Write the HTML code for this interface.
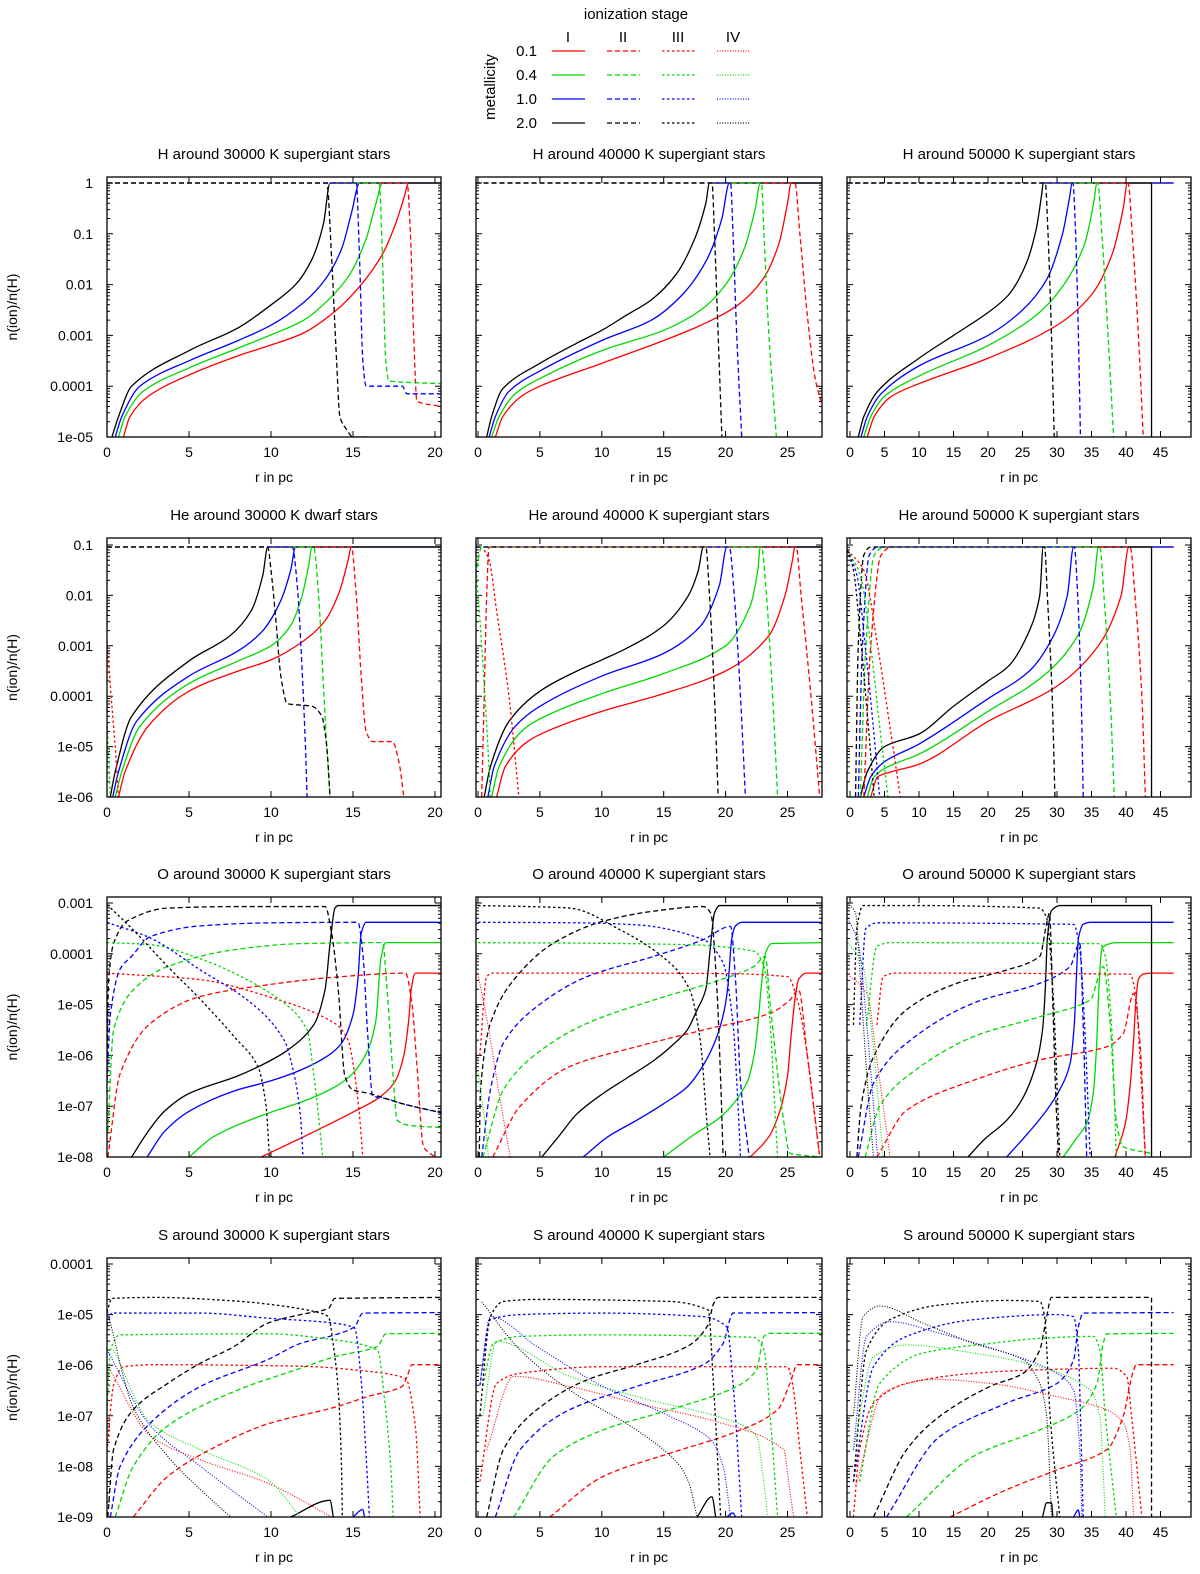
<!DOCTYPE html>
<html><head><meta charset="utf-8"><title>Ionization fractions</title>
<style>
html,body{margin:0;padding:0;background:#fff;}
svg{display:block;font-family:"Liberation Sans",Arial,sans-serif;}
</style></head>
<body>
<svg id="chart" width="1200" height="1574" viewBox="0 0 1200 1574" xmlns="http://www.w3.org/2000/svg">
<g>
<text x="636" y="19" font-size="15" text-anchor="middle">ionization stage</text>
<text x="0" y="0" font-size="15" text-anchor="middle" transform="translate(495,87) rotate(-90)">metallicity</text>
<g id="legend-items"></g>
</g>
<g id="panels"></g>
</svg>
<script>
// colours per metallicity (0.1, 0.4, 1.0, 2.0) and dash style per ionization stage
const COLORS=['#ff0000','#00d800','#0000ff','#000000'];
const DASH=['', '5,3', '2.5,2.5', '1,1.6'];
const METALS=['0.1','0.4','1.0','2.0'];
const STAGES=['I','II','III','IV'];

// axis tick labels
const XT1=[0,5,10,15,20];
const XT2=[0,5,10,15,20,25];
const XT3=[0,5,10,15,20,25,30,35,40,45];
const YT_H=['1','0.1','0.01','0.001','0.0001','1e-05'];
const YT_HE=['0.1','0.01','0.001','0.0001','1e-05','1e-06'];
const YT_O=['0.001','0.0001','1e-05','1e-06','1e-07','1e-08'];
const YT_S=['0.0001','1e-05','1e-06','1e-07','1e-08','1e-09'];
const TITLES=[
 ['H around 30000 K supergiant stars','H around 40000 K supergiant stars','H around 50000 K supergiant stars'],
 ['He around 30000 K dwarf stars','He around 40000 K supergiant stars','He around 50000 K supergiant stars'],
 ['O around 30000 K supergiant stars','O around 40000 K supergiant stars','O around 50000 K supergiant stars'],
 ['S around 30000 K supergiant stars','S around 40000 K supergiant stars','S around 50000 K supergiant stars']];

// series: m = metallicity index, s = stage index, pts = [r (pc), log10 n(ion)/n(H)]
const H30=[
{m:0,s:0,pts:[[1.0,-5],[1.4,-4.6],[2.5,-4.2],[5,-3.78],[8,-3.4],[10,-3.19],[12,-2.95],[14,-2.5],[15.5,-2],[16.8,-1.4],[17.6,-0.8],[18.1,-0.3],[18.4,0],[20.4,0]]},
{m:1,s:0,pts:[[0.7,-5],[1.1,-4.6],[2.2,-4.1],[5,-3.64],[8,-3.25],[10,-2.99],[12,-2.7],[13.5,-2.3],[14.8,-1.8],[15.8,-1.1],[16.4,-0.4],[16.8,0],[20.4,0]]},
{m:2,s:0,pts:[[0.5,-5],[0.9,-4.6],[2,-4.0],[5,-3.5],[8,-3.1],[10,-2.8],[12,-2.35],[13.3,-1.9],[14.3,-1.3],[14.9,-0.6],[15.4,0],[20.4,0]]},
{m:3,s:0,pts:[[0.3,-5],[0.7,-4.6],[1.5,-4.0],[5,-3.3],[8,-2.85],[10,-2.4],[11.5,-2.0],[12.5,-1.5],[13.2,-0.8],[13.6,0],[20.4,0]]},
{m:0,s:1,pts:[[0,0],[18.3,0],[18.5,-1],[18.7,-3],[18.9,-4.3],[20.4,-4.4]]},
{m:1,s:1,pts:[[0,0],[16.6,0],[16.8,-1.5],[17.0,-3.5],[17.2,-3.9],[20.4,-3.95]]},
{m:2,s:1,pts:[[0,0],[15.2,0],[15.4,-1.5],[15.6,-3.5],[15.8,-4.0],[18.0,-4.0],[18.3,-4.15],[20.4,-4.15]]},
{m:3,s:1,pts:[[0,0],[13.4,0],[13.7,-1.5],[14.0,-3.5],[14.2,-4.6],[14.6,-4.85],[15,-5.0],[16,-5.0]]}];
const H40=[
{m:0,s:0,pts:[[1.4,-5],[2,-4.6],[3.5,-4.2],[5,-4.0],[10,-3.55],[15,-3.1],[18,-2.8],[21,-2.4],[23,-1.9],[24.3,-1.2],[25,-0.4],[25.3,0],[27.8,0]]},
{m:1,s:0,pts:[[1.1,-5],[1.7,-4.6],[3,-4.15],[5,-3.85],[10,-3.3],[15,-2.9],[18,-2.5],[20,-2.0],[21.5,-1.3],[22.4,-0.5],[22.8,0],[27.8,0]]},
{m:2,s:0,pts:[[0.9,-5],[1.4,-4.6],[2.5,-4.1],[5,-3.7],[10,-3.1],[14,-2.7],[16.5,-2.2],[18.5,-1.5],[19.7,-0.7],[20.3,0],[27.8,0]]},
{m:3,s:0,pts:[[0.7,-5],[1.1,-4.6],[2,-4.05],[5,-3.55],[8,-3.15],[10,-2.9],[12,-2.6],[14,-2.3],[16,-1.8],[17.5,-1.1],[18.4,-0.4],[18.7,0],[27.8,0]]},
{m:0,s:1,pts:[[-0.2,0],[25.6,0],[26,-1],[26.6,-2.6],[27.2,-3.8],[27.8,-4.4]]},
{m:1,s:1,pts:[[-0.2,0],[22.9,0],[23.1,-1],[23.5,-3],[24.1,-5]]},
{m:2,s:1,pts:[[-0.2,0],[20.4,0],[20.6,-1],[20.9,-3],[21.3,-5]]},
{m:3,s:1,pts:[[-0.2,0],[18.9,0],[19.1,-1],[19.4,-3],[19.7,-5]]}];
const H50=[
{m:0,s:0,pts:[[2.5,-5],[3.5,-4.6],[6,-4.2],[10,-3.95],[20,-3.45],[30,-2.8],[35,-2.2],[38,-1.4],[39.6,-0.5],[40.2,0],[46.9,0]]},
{m:1,s:0,pts:[[2,-5],[3,-4.6],[5,-4.2],[10,-3.8],[20,-3.2],[27,-2.6],[31,-2.0],[34,-1.2],[35.3,-0.4],[35.8,0],[46.9,0]]},
{m:2,s:0,pts:[[1.6,-5],[2.5,-4.6],[4.5,-4.15],[10,-3.6],[20,-3.0],[25,-2.5],[28.5,-1.9],[30.8,-1.0],[31.8,-0.3],[32.2,0],[46.9,0]]},
{m:3,s:0,pts:[[1.2,-5],[2,-4.6],[4,-4.1],[10,-3.45],[15,-3.0],[20,-2.55],[23,-2.2],[25.5,-1.6],[27,-0.9],[27.8,-0.2],[28,0],[43.7,0],[43.7,-5.2]]},
{m:0,s:1,pts:[[-0.4,0],[40.3,0],[40.9,-1],[41.8,-3],[42.5,-5]]},
{m:1,s:1,pts:[[-0.4,0],[35.9,0],[36.5,-1],[37.4,-3],[38.2,-5]]},
{m:2,s:1,pts:[[-0.4,0],[32.3,0],[32.7,-1],[33.1,-3],[33.4,-5]]},
{m:3,s:1,pts:[[-0.4,0],[28.3,0],[28.7,-1],[29.2,-3],[29.6,-5]]}];
const HE30=[
{m:0,s:0,pts:[[0.7,-6],[1.1,-5.5],[2.5,-4.6],[5,-3.9],[8,-3.5],[10,-3.28],[12,-2.9],[13.3,-2.5],[14.2,-1.9],[14.7,-1.3],[14.9,-1.04],[20.4,-1.04]]},
{m:1,s:0,pts:[[0.5,-6],[0.9,-5.5],[2,-4.6],[5,-3.75],[8,-3.3],[10,-3.0],[11.2,-2.6],[11.9,-2.0],[12.3,-1.4],[12.5,-1.04],[20.4,-1.04]]},
{m:2,s:0,pts:[[0.35,-6],[0.7,-5.5],[1.8,-4.5],[5,-3.6],[8,-3.1],[9.5,-2.7],[10.6,-2.1],[11.2,-1.5],[11.5,-1.04],[20.4,-1.04]]},
{m:3,s:0,pts:[[0.2,-6],[0.5,-5.5],[1.5,-4.4],[5,-3.3],[7.5,-2.8],[8.8,-2.3],[9.5,-1.6],[9.8,-1.04],[20.4,-1.04]]},
{m:0,s:1,pts:[[0,-1.04],[14.9,-1.04],[15.2,-2],[15.5,-3.6],[15.8,-4.7],[16.2,-4.9],[17.4,-4.9],[17.8,-5.3],[18.1,-6]]},
{m:1,s:1,pts:[[0,-1.04],[12.6,-1.04],[12.9,-2],[13.2,-3.8],[13.4,-5],[13.6,-6]]},
{m:2,s:1,pts:[[0,-1.04],[11.3,-1.04],[11.6,-1.8],[11.9,-3.5],[12.1,-5],[12.2,-6]]},
{m:3,s:1,pts:[[0,-1.04],[9.8,-1.04],[10.0,-1.5],[10.3,-2.5],[10.6,-3.6],[11,-4.15],[12.5,-4.2],[13.1,-4.4],[13.4,-5],[13.6,-6]]},
{m:0,s:2,pts:[[0,-2.9],[0.25,-4],[0.5,-5],[0.7,-6]]},
{m:1,s:2,pts:[[0,-4.5],[0.1,-5.2],[0.2,-6]]}];
const HE40=[
{m:0,s:0,pts:[[1.5,-6],[2.2,-5.4],[4,-4.9],[6,-4.65],[10,-4.3],[15,-3.95],[20,-3.5],[23.5,-2.8],[24.8,-2.0],[25.4,-1.3],[25.6,-1.04],[27.8,-1.04]]},
{m:1,s:0,pts:[[1.1,-6],[1.7,-5.4],[3.5,-4.7],[5,-4.45],[10,-3.95],[15,-3.55],[20,-3.0],[22,-2.2],[22.6,-1.5],[22.8,-1.04],[27.8,-1.04]]},
{m:2,s:0,pts:[[0.8,-6],[1.3,-5.4],[3,-4.6],[5,-4.2],[10,-3.6],[15,-3.15],[18,-2.6],[19.5,-1.8],[20.1,-1.04],[27.8,-1.04]]},
{m:3,s:0,pts:[[0.5,-6],[1,-5.4],[2.5,-4.5],[5,-3.9],[8,-3.5],[10,-3.28],[12,-3.05],[15,-2.6],[17,-2.0],[17.8,-1.5],[18.2,-1.04],[27.8,-1.04]]},
{m:0,s:1,pts:[[0.3,-6],[0.5,-4],[0.7,-2],[0.9,-1.04],[25.7,-1.04],[26.1,-2],[26.9,-4],[27.6,-6]]},
{m:1,s:1,pts:[[-0.2,-1.6],[0.3,-1.04],[22.9,-1.04],[23.3,-2],[23.8,-4],[24.2,-6]]},
{m:2,s:1,pts:[[-0.2,-1.04],[20.3,-1.04],[20.7,-2],[21.2,-4],[21.6,-6]]},
{m:3,s:1,pts:[[-0.2,-1.04],[18.4,-1.04],[18.7,-2],[19.1,-4],[19.4,-6]]},
{m:0,s:2,pts:[[0.5,-1.1],[0.9,-1.3],[1.5,-2.3],[2.5,-4],[3.3,-6]]},
{m:1,s:2,pts:[[-0.2,-1.3],[0.3,-3],[0.8,-5],[1.0,-6]]}];
const HE50=[
{m:0,s:0,pts:[[3,-6],[4,-5.6],[6,-5.5],[10,-5.35],[20,-4.5],[30,-3.8],[36,-3.0],[39.3,-2.0],[40.4,-1.04],[46.9,-1.04]]},
{m:1,s:0,pts:[[2.5,-6],[3.5,-5.6],[5.5,-5.4],[10,-5.15],[20,-4.3],[28,-3.6],[33,-2.8],[35.3,-1.8],[36,-1.04],[46.9,-1.04]]},
{m:2,s:0,pts:[[2,-6],[3,-5.6],[5,-5.3],[10,-4.95],[20,-4.05],[26,-3.5],[29.5,-2.8],[31.5,-2.0],[32.4,-1.04],[46.9,-1.04]]},
{m:3,s:0,pts:[[1.5,-6],[2.5,-5.5],[5,-5.0],[10,-4.75],[15,-4.2],[20,-3.7],[23,-3.4],[26,-2.7],[27.5,-2.0],[28,-1.04],[43.7,-1.04],[43.7,-6.2]]},
{m:0,s:1,pts:[[2,-6],[3,-3],[4.5,-1.2],[6,-1.04],[40.6,-1.04],[41.3,-2],[42.3,-4],[42.8,-6]]},
{m:1,s:1,pts:[[1.5,-6],[2.3,-3],[3.5,-1.2],[5,-1.04],[36.2,-1.04],[36.8,-2],[37.7,-4],[38.3,-6]]},
{m:2,s:1,pts:[[1.2,-6],[1.8,-3],[2.8,-1.2],[4,-1.04],[32.5,-1.04],[33,-2],[33.5,-4],[33.8,-6]]},
{m:3,s:1,pts:[[0.8,-6],[1.2,-3],[2,-1.2],[3,-1.04],[28.2,-1.04],[28.6,-2],[29.3,-4],[29.7,-6]]},
{m:0,s:2,pts:[[-0.4,-1.1],[2,-1.5],[4,-3],[6,-4.8],[7.3,-6]]},
{m:1,s:2,pts:[[-0.4,-1.1],[1.5,-1.6],[3,-3],[4.3,-4.6],[5.5,-6]]},
{m:2,s:2,pts:[[-0.4,-1.1],[1,-1.6],[2.2,-3],[3.3,-4.5],[4.3,-6]]},
{m:3,s:2,pts:[[-0.4,-1.1],[0.5,-1.5],[1.5,-2.8],[2.6,-4.5],[3.5,-6]]}];
const O30=[
{m:0,s:0,pts:[[9.4,-8],[12,-7.6],[15.1,-7.1],[16.5,-6.85],[17.55,-6.52],[18.1,-6.0],[18.4,-5.3],[18.55,-4.7],[18.8,-4.38],[20.4,-4.38]]},
{m:1,s:0,pts:[[5,-8],[6.5,-7.6],[9.8,-7.14],[12,-6.9],[13.9,-6.62],[15,-6.35],[15.9,-5.9],[16.4,-5.3],[16.7,-4.1],[17.0,-3.78],[20.4,-3.78]]},
{m:2,s:0,pts:[[2.45,-8],[3.5,-7.5],[5,-7.1],[7.75,-6.7],[10,-6.5],[11.8,-6.29],[13.5,-6.0],[14.3,-5.76],[15.0,-5.2],[15.3,-4.5],[15.5,-3.6],[15.8,-3.38],[20.4,-3.38]]},
{m:3,s:0,pts:[[1.5,-8],[2.5,-7.5],[3.5,-7.1],[5,-6.75],[8,-6.4],[9.8,-6.13],[11,-5.9],[12.6,-5.4],[13.3,-4.7],[13.6,-3.8],[13.9,-3.1],[14.1,-3.05],[20.4,-3.05]]},
{m:0,s:1,pts:[[0.05,-8],[0.8,-6.36],[2.65,-5.37],[5.7,-4.84],[9.8,-4.61],[13.9,-4.46],[18.2,-4.38],[18.6,-5],[18.9,-6.2],[19.3,-7.8],[20.0,-8.0]]},
{m:1,s:1,pts:[[0.05,-7.5],[0.4,-5.5],[1.6,-4.71],[3.7,-4.25],[7.75,-3.92],[11.8,-3.8],[16.8,-3.78],[17.1,-4.8],[17.4,-6.2],[17.7,-7.28],[18.5,-7.38],[20.4,-7.42]]},
{m:2,s:1,pts:[[0,-6.5],[0.2,-5.2],[0.8,-4.3],[1.5,-4.05],[2.65,-3.66],[5.7,-3.45],[10,-3.39],[15.3,-3.38],[15.6,-4],[15.9,-5.6],[16.2,-6.8],[17,-6.85],[18,-6.95],[20.4,-7.13]]},
{m:3,s:1,pts:[[0,-6],[0.1,-4.5],[0.4,-3.8],[1.2,-3.36],[3.7,-3.1],[8,-3.07],[13.3,-3.07],[13.7,-3.6],[14.1,-4.7],[14.5,-6.4],[15,-6.68],[16,-6.75],[18,-6.95],[20.4,-7.13]]},
{m:0,s:2,pts:[[0,-4.38],[5.7,-4.51],[9.8,-4.84],[13.9,-5.37],[14.7,-5.7],[15.1,-6.36],[15.4,-7.2],[15.6,-8]]},
{m:1,s:2,pts:[[0,-3.78],[2.65,-3.82],[5.7,-4.1],[7.75,-4.38],[10.8,-4.97],[12.2,-5.5],[12.6,-6.36],[12.9,-7.2],[13.15,-8]]},
{m:2,s:2,pts:[[0,-3.38],[2.65,-3.69],[5.7,-4.32],[8.8,-4.97],[10.8,-5.7],[11.4,-6.36],[11.8,-7.2],[11.95,-8]]},
{m:3,s:2,pts:[[0,-3.03],[1.6,-3.53],[3.7,-4.25],[5.7,-4.9],[7.75,-5.63],[9.2,-6.22],[9.7,-7.0],[9.9,-8]]}];
const O40=[
{m:0,s:0,pts:[[22,-8],[23.5,-7.6],[24.4,-7.08],[25,-6.4],[25.3,-5.6],[25.6,-4.9],[25.9,-4.5],[26.5,-4.38],[27.8,-4.38]]},
{m:1,s:0,pts:[[15,-8],[17.5,-7.55],[19.6,-7.21],[21.7,-6.55],[22.3,-6.0],[22.6,-5.4],[22.9,-4.6],[23.2,-4.0],[23.7,-3.8],[27.8,-3.78]]},
{m:2,s:0,pts:[[8.5,-8],[10.5,-7.6],[12.8,-7.28],[15,-6.95],[16.9,-6.62],[18.3,-6.15],[19.3,-5.63],[19.9,-5.1],[20.2,-4.6],[20.5,-3.7],[20.8,-3.45],[21.3,-3.38],[27.8,-3.38]]},
{m:3,s:0,pts:[[5.15,-8],[6.5,-7.6],[8,-7.15],[10.1,-6.75],[12,-6.45],[14.2,-6.1],[15.7,-5.8],[16.9,-5.5],[17.7,-5.1],[18.4,-4.7],[18.8,-3.8],[19.1,-3.2],[19.5,-3.05],[27.8,-3.05]]},
{m:0,s:1,pts:[[1.2,-8],[3.4,-7.0],[7.4,-6.22],[12.8,-5.83],[18.2,-5.5],[23.6,-5.17],[25.2,-4.91],[25.9,-4.71],[26.6,-6.0],[27.6,-8]]},
{m:1,s:1,pts:[[0.4,-8],[2.05,-6.68],[4.75,-5.96],[8.8,-5.37],[14.2,-4.91],[19.6,-4.51],[22.3,-4.25],[23.2,-4.05],[23.6,-5.0],[24.7,-7.3],[25.2,-7.93],[27.8,-8]]},
{m:2,s:1,pts:[[0.3,-8],[1.0,-6.68],[2.05,-5.76],[4.75,-5.04],[8.8,-4.45],[14.2,-4.05],[18.2,-3.72],[20.4,-3.46],[20.8,-4.5],[21.2,-6.5],[21.9,-8]]},
{m:3,s:1,pts:[[0.1,-8],[0.2,-6.68],[1.0,-5.37],[2.9,-4.51],[6.1,-3.79],[10.1,-3.36],[14.2,-3.16],[18.2,-3.07],[18.8,-3.2],[19.3,-4.7],[19.6,-6.5],[19.8,-8]]},
{m:0,s:2,pts:[[0.15,-6],[0.7,-4.45],[1.2,-4.38],[10,-4.38],[20,-4.39],[25,-4.45],[25.8,-4.91],[26.6,-6.0],[27.6,-8]]},
{m:1,s:2,pts:[[0,-3.78],[8,-3.79],[16.9,-3.82],[22.3,-3.95],[23.1,-4.25],[23.6,-5.37],[23.9,-6.7],[24.2,-8]]},
{m:2,s:2,pts:[[0,-3.38],[8,-3.39],[12.8,-3.43],[18.2,-3.72],[19.8,-4.18],[20.6,-5.37],[20.9,-6.5],[21.2,-8]]},
{m:3,s:2,pts:[[0,-3.05],[4,-3.07],[7.4,-3.1],[11.5,-3.53],[15.5,-4.18],[17.1,-4.71],[17.95,-5.7],[18.5,-7.34],[18.75,-8]]},
{m:0,s:3,pts:[[0,-4.4],[0.8,-5.4],[1.6,-6.6],[2.6,-8]]},
{m:1,s:3,pts:[[0,-6.3],[0.5,-7.2],[0.85,-8]]}];
const O50=[
{m:0,s:0,pts:[[38.4,-8],[39.9,-7.34],[40.6,-6.6],[41.1,-5.7],[41.4,-5.0],[41.8,-4.5],[42.5,-4.4],[43.5,-4.38],[46.9,-4.38]]},
{m:1,s:0,pts:[[30.9,-8],[33,-7.6],[34.3,-7.34],[35.3,-6.7],[35.7,-5.9],[36.1,-4.6],[36.5,-3.9],[37.2,-3.82],[38.6,-3.78],[46.9,-3.78]]},
{m:2,s:0,pts:[[22.7,-8],[26,-7.5],[28.5,-7.08],[30.5,-6.65],[31.9,-6.16],[32.5,-5.4],[32.8,-4.5],[33.1,-3.7],[33.8,-3.42],[34.8,-3.38],[46.9,-3.38]]},
{m:3,s:0,pts:[[17.1,-8],[19.5,-7.65],[22.7,-7.28],[25,-6.85],[27,-6.16],[27.9,-5.5],[28.3,-4.7],[28.6,-3.7],[29.2,-3.15],[30.4,-3.05],[43.7,-3.05],[43.7,-8.1]]},
{m:0,s:1,pts:[[3.9,-8],[8.2,-7.08],[17.9,-6.49],[27.5,-6.09],[37.2,-5.83],[39.6,-5.57],[41.1,-4.78],[42.0,-5.7],[42.8,-8]]},
{m:1,s:1,pts:[[2.2,-8],[4.3,-7.0],[8.2,-6.42],[17.9,-5.63],[27.5,-5.24],[34.8,-4.91],[36.7,-4.25],[37.7,-5.37],[38.6,-7.3],[39.6,-7.8],[43.7,-7.93]]},
{m:2,s:1,pts:[[1.2,-8],[3.4,-6.55],[8.2,-5.76],[17.9,-4.97],[27.5,-4.58],[31.9,-4.25],[33.3,-3.79],[33.8,-5.4],[34.3,-8]]},
{m:3,s:1,pts:[[1.0,-8],[1.6,-7.0],[3.4,-6.03],[8.2,-5.1],[15.5,-4.58],[22.7,-4.32],[27.5,-4.05],[28.5,-3.4],[28.9,-3.2],[29.4,-5.0],[29.8,-6.7],[30.2,-8]]},
{m:0,s:2,pts:[[3.9,-5.4],[4.8,-4.45],[6.5,-4.38],[40.6,-4.4],[41.5,-4.91],[42.0,-6.0],[42.8,-8]]},
{m:1,s:2,pts:[[2.4,-5.4],[3.9,-3.85],[6,-3.78],[36.2,-3.8],[37,-4.05],[37.9,-5.4],[38.6,-8]]},
{m:2,s:2,pts:[[1.4,-5.4],[2.3,-3.5],[4,-3.39],[32.4,-3.42],[33.3,-3.9],[34,-5.4],[34.8,-8]]},
{m:3,s:2,pts:[[0.5,-5.4],[1.0,-3.5],[1.9,-3.05],[10,-3.05],[27.5,-3.1],[28.5,-3.3],[29.4,-4.7],[30.4,-8]]},
{m:0,s:3,pts:[[-0.3,-4.4],[2.5,-4.8],[3.8,-6.0],[5.8,-8]]},
{m:1,s:3,pts:[[-0.3,-3.78],[1.8,-4.2],[3.2,-5.6],[4.8,-8]]},
{m:2,s:3,pts:[[-0.3,-3.3],[1.2,-3.8],[2.5,-5.5],[4.0,-8]]},
{m:3,s:3,pts:[[-0.3,-3],[0.8,-3.2],[1.5,-4.5],[2.5,-6.5],[3.4,-8]]}];
const S30=[
{m:2,s:0,pts:[[15.0,-9],[15.6,-8.85],[15.7,-9]]},
{m:3,s:0,pts:[[11.2,-9],[13.6,-8.67],[13.8,-9]]},
{m:0,s:1,pts:[[1.6,-9],[3.7,-8.2],[6.7,-7.6],[9.8,-7.16],[13.9,-6.83],[15.9,-6.62],[18,-6.42],[18.3,-6.22],[18.6,-5.99],[20.4,-5.99]]},
{m:1,s:1,pts:[[0.5,-9],[1.6,-8.0],[3.7,-7.2],[7.75,-6.52],[11.8,-6.06],[13.9,-5.83],[16.5,-5.63],[17.0,-5.38],[20.4,-5.37]]},
{m:2,s:1,pts:[[0.2,-9],[0.8,-8.0],[2.65,-7.14],[5.7,-6.42],[9.8,-5.89],[11.8,-5.57],[13.9,-5.4],[15.1,-5.24],[15.6,-4.97],[20.4,-4.96]]},
{m:3,s:1,pts:[[0.05,-9],[0.4,-7.67],[1.6,-6.88],[3.7,-6.36],[5.7,-5.96],[7.75,-5.63],[9.8,-5.17],[11.8,-5.0],[13.5,-4.88],[13.9,-4.68],[20.4,-4.66]]},
{m:0,s:2,pts:[[0,-7.7],[0.4,-6.4],[1.0,-6.03],[3,-5.99],[11.8,-6.02],[15.9,-6.12],[18.2,-6.26],[18.8,-7.2],[19.1,-9]]},
{m:1,s:2,pts:[[0,-6.9],[0.2,-5.7],[0.8,-5.4],[9.8,-5.38],[13.9,-5.5],[16.5,-5.7],[16.9,-6.6],[17.3,-8],[17.45,-9]]},
{m:2,s:2,pts:[[0,-5.2],[0.3,-4.97],[5.7,-4.97],[9.8,-5.07],[13.9,-5.17],[15.1,-5.27],[15.5,-6.3],[15.8,-7.8],[16.0,-9]]},
{m:3,s:2,pts:[[0,-4.95],[0.3,-4.68],[3,-4.66],[7.75,-4.73],[10,-4.8],[12.65,-4.94],[13.5,-5.04],[13.8,-5.6],[14.1,-6.5],[14.3,-8],[14.35,-9]]},
{m:0,s:3,pts:[[0.2,-6.1],[2.65,-7.4],[5.7,-7.87],[9.8,-8.33],[13.7,-9]]},
{m:1,s:3,pts:[[0.4,-5.7],[2.65,-7.14],[5.7,-7.67],[9.8,-8.26],[11.8,-9]]},
{m:2,s:3,pts:[[0,-5.7],[2.65,-7.2],[5.7,-8.0],[9.8,-9]]},
{m:3,s:3,pts:[[0,-4.9],[1.6,-6.83],[3.7,-7.8],[5.7,-8.46],[7.55,-9]]}];
const S40=[
{m:2,s:0,pts:[[20.1,-9],[20.6,-8.92],[20.8,-9]]},
{m:3,s:0,pts:[[17.7,-9],[18.9,-8.6],[19.2,-9]]},
{m:0,s:1,pts:[[5.8,-9],[10.1,-8.2],[15.5,-7.74],[20.9,-7.31],[24.2,-6.88],[25.2,-6.36],[25.8,-5.99],[27.8,-5.99]]},
{m:1,s:1,pts:[[2.9,-9],[6.1,-7.8],[10.1,-7.28],[15.5,-6.88],[20.9,-6.42],[22.5,-6.09],[23.1,-5.43],[23.5,-5.37],[27.8,-5.37]]},
{m:2,s:1,pts:[[1.4,-9],[3.4,-7.67],[7.4,-6.88],[12.8,-6.42],[18.2,-5.99],[19.8,-5.57],[20.6,-4.97],[27.8,-4.96]]},
{m:3,s:1,pts:[[0.7,-9],[2.05,-7.67],[4.75,-6.88],[8.8,-6.29],[12.8,-5.99],[16.9,-5.63],[18.6,-5.2],[19.0,-4.8],[19.4,-4.66],[27.8,-4.66]]},
{m:0,s:2,pts:[[0.15,-8.3],[1.5,-6.36],[3.4,-6.16],[10.1,-6.03],[25,-6.03],[25.4,-6.36],[26.0,-7.67],[26.6,-9]]},
{m:1,s:2,pts:[[0.4,-6.4],[1.25,-5.57],[3.4,-5.43],[10,-5.4],[22.3,-5.45],[23.1,-5.7],[23.6,-7.0],[24.2,-9]]},
{m:2,s:2,pts:[[0.15,-6.4],[1.0,-5.1],[3.4,-5.0],[10,-4.97],[18.2,-5.04],[20.1,-5.24],[20.6,-6.35],[21.3,-9]]},
{m:3,s:2,pts:[[0.15,-7],[1.0,-5.04],[2.05,-4.74],[4.75,-4.7],[15.5,-4.74],[18.6,-4.91],[19.0,-6.3],[19.6,-9]]},
{m:0,s:3,pts:[[0.7,-7.67],[2.9,-6.22],[7.4,-6.42],[12.8,-6.75],[19.6,-7.14],[24.7,-7.67],[25.1,-8.33],[25.5,-9]]},
{m:1,s:3,pts:[[0.4,-7],[1.5,-5.53],[7.4,-6.22],[12.8,-6.62],[20.9,-7.14],[22.5,-7.4],[23.1,-8.33],[23.4,-9]]},
{m:2,s:3,pts:[[0.15,-6.4],[1.0,-5.04],[4.75,-5.63],[10.1,-6.42],[15.5,-7.01],[18.8,-7.47],[19.8,-8.0],[20.4,-9]]},
{m:3,s:3,pts:[[0.3,-4.75],[3.4,-5.7],[7.4,-6.49],[12.8,-7.28],[16.1,-7.93],[17.0,-8.3],[17.7,-9]]}];
const S50=[
{m:2,s:0,pts:[[32.4,-9],[33.1,-8.86],[33.3,-9]]},
{m:3,s:0,pts:[[27.9,-9],[28.5,-8.72],[29.2,-8.72],[29.4,-9]]},
{m:0,s:1,pts:[[14.5,-9],[22.7,-8.46],[30,-8.07],[37.2,-7.67],[39.6,-7.01],[40.6,-6.36],[41.1,-6.1],[41.5,-5.99],[46.9,-5.99]]},
{m:1,s:1,pts:[[8.2,-9],[17.9,-7.8],[27.5,-7.28],[33.3,-6.88],[35.8,-6.36],[36.7,-5.57],[37.2,-5.38],[46.9,-5.37]]},
{m:2,s:1,pts:[[5.3,-9],[13.0,-7.41],[22.7,-6.75],[30,-6.36],[32.4,-5.9],[33.1,-5.24],[33.8,-4.97],[46.9,-4.96]]},
{m:3,s:1,pts:[[3.4,-9],[8.2,-7.67],[13.0,-7.01],[20.3,-6.42],[25.1,-6.16],[27.5,-5.7],[28.5,-5.04],[29.2,-4.66],[43.7,-4.66],[43.7,-9.1]]},
{m:0,s:2,pts:[[0.5,-9],[1.4,-7.67],[3.4,-6.75],[8.2,-6.36],[17.9,-6.16],[27.5,-6.09],[38.2,-6.06],[40.1,-6.22],[40.8,-7.0],[42.3,-9]]},
{m:1,s:2,pts:[[1.4,-8.3],[4.3,-6.36],[10.6,-5.76],[20.3,-5.57],[27.5,-5.47],[35.3,-5.43],[36.2,-5.7],[37.0,-7.0],[38.6,-9]]},
{m:2,s:2,pts:[[0.5,-8.3],[3.4,-6.03],[8.2,-5.43],[17.9,-5.1],[30,-5.0],[32.4,-5.04],[33.1,-5.7],[33.4,-7.0],[33.8,-9]]},
{m:3,s:2,pts:[[0.5,-8.3],[2.4,-5.7],[5.8,-5.1],[13.0,-4.81],[22.7,-4.72],[27.5,-4.74],[28.2,-5.04],[29.0,-7.0],[30.4,-9]]},
{m:0,s:3,pts:[[1.0,-8.33],[4.8,-6.55],[12.1,-6.28],[20.3,-6.36],[30,-6.62],[37.2,-6.88],[39.6,-7.14],[40.6,-7.67],[41.1,-9]]},
{m:1,s:3,pts:[[0.5,-7.67],[3.4,-5.83],[8.2,-5.6],[17.9,-5.76],[27.5,-6.03],[34.8,-6.49],[36.2,-7.01],[37.0,-9]]},
{m:2,s:3,pts:[[0.5,-7.67],[2.4,-5.43],[5.8,-5.14],[13.0,-5.37],[22.7,-5.76],[30,-6.16],[32.4,-6.49],[33.3,-7.67],[33.6,-9]]},
{m:3,s:3,pts:[[0.5,-7.0],[1.9,-5.04],[4.3,-4.83],[10.6,-5.17],[17.9,-5.57],[25.1,-5.89],[27.5,-6.36],[28.5,-7.01],[29.2,-9]]}];

const DATA=[[H30,H40,H50],[HE30,HE40,HE50],[O30,O40,O50],[S30,S40,S50]];
const ELEMENTS=['h','he','o','s'];
const TEMPS=['30000','40000','50000'];

// layout (pixel geometry, not data)
const COLS=[{L:107,R:441,x0:107,k:16.4,ticks:XT1},{L:476,R:822,x0:478,k:12.38,ticks:XT2},{L:847,R:1191,x0:850,k:6.9,ticks:XT3}];
const ROWS=[{T:177,B:437,y0:183,top:0,k:50.8,lab:YT_H},{T:538,B:797,y0:545,top:-1,k:50.4,lab:YT_HE},{T:897,B:1157,y0:903,top:-3,k:50.8,lab:YT_O},{T:1258,B:1517,y0:1264,top:-4,k:50.6,lab:YT_S}];
const NS='http://www.w3.org/2000/svg';
function mk(tag,attrs,parent){const e=document.createElementNS(NS,tag);for(const k in attrs)e.setAttribute(k,attrs[k]);if(parent)parent.appendChild(e);return e;}
function lineStyle(el,m,s,w){
 el.setAttribute('stroke',COLORS[m]);
 el.setAttribute('stroke-width',w);
 el.setAttribute('fill','none');
 if(DASH[s])el.setAttribute('stroke-dasharray',DASH[s]);
}

function pathFor(pts,xs,ys){
 const P=pts.map(p=>[xs(p[0]),ys(p[1])]);const n=P.length;
 if(n<2)return '';
 const d=[],m=[];
 for(let i=0;i<n-1;i++){const dx=P[i+1][0]-P[i][0];d.push(dx>0.01?(P[i+1][1]-P[i][1])/dx:null);}
 for(let i=0;i<n;i++){
  const a=i>0?d[i-1]:null,b=i<n-1?d[i]:null;
  if(a===null&&b===null)m.push(0);
  else if(a===null)m.push(i===0?b:0);
  else if(b===null)m.push(i===n-1?a:0);
  else if(a*b<=0)m.push(0);
  else m.push(2/(1/a+1/b));
 }
 let s='M'+P[0][0].toFixed(2)+','+P[0][1].toFixed(2);
 for(let i=0;i<n-1;i++){
  const x1=P[i][0],y1=P[i][1],x2=P[i+1][0],y2=P[i+1][1];
  if(d[i]===null){s+='L'+x2.toFixed(2)+','+y2.toFixed(2);continue;}
  const h=(x2-x1)/3;
  s+='C'+(x1+h).toFixed(2)+','+(y1+m[i]*h).toFixed(2)+' '+(x2-h).toFixed(2)+','+(y2-m[i+1]*h).toFixed(2)+' '+x2.toFixed(2)+','+y2.toFixed(2);
 }
 return s;
}

const root=document.getElementById('panels');
const defs=mk('defs',{},root);
for(let r=0;r<4;r++){
 const row=ROWS[r];
 for(let c=0;c<3;c++){
  const col=COLS[c];
  const xs=v=>col.x0+v*col.k;
  const ys=v=>row.y0+(row.top-v)*row.k;
  const id='clip'+r+c;
  const cp=mk('clipPath',{id:id},defs);
  mk('rect',{x:col.L,y:row.T,width:col.R-col.L,height:row.B-row.T},cp);
  const g=mk('g',{},root);
  
  
  const cx=(col.L+col.R)/2;
  const t=mk('text',{x:cx,y:row.T-18,'font-size':15,'text-anchor':'middle'},g);
  t.textContent=TITLES[r][c];
  
  
  const xl=mk('text',{x:cx,y:row.B+45,'font-size':14,'text-anchor':'middle'},g);
  xl.textContent='r in pc';
  
  
  for(const tv of col.ticks){
   const x=xs(tv);
   const tk=mk('path',{d:'M'+x+','+row.B+'v-6M'+x+','+row.T+'v6',stroke:'#000','stroke-width':1},g);
   
   
   const tl=mk('text',{x:x,y:row.B+20,'font-size':14,'text-anchor':'middle'},g);
   tl.textContent=String(tv);
   
   
  }
  for(let i=0;i<row.lab.length;i++){
   const dv=row.top-i;const y=ys(dv);
   const tk=mk('path',{d:'M'+col.L+','+y+'h6M'+col.R+','+y+'h-6',stroke:'#000','stroke-width':1},g);
   
   
   if(c===0){
    const tl=mk('text',{x:93,y:y+5,'font-size':14,'text-anchor':'end'},g);
    tl.textContent=row.lab[i];
    
    
   }
   for(let mm=2;mm<=9;mm++){
    const yy=ys(dv-1+Math.log10(mm));
    if(yy<row.T||yy>row.B)continue;
    const mt=mk('path',{d:'M'+col.L+','+yy.toFixed(1)+'h3M'+col.R+','+yy.toFixed(1)+'h-3',stroke:'#000','stroke-width':1},g);
    
    
   }
  }
  if(c===0){
   const yl=mk('text',{x:0,y:0,'font-size':14,'text-anchor':'middle',transform:'translate(17,'+((row.T+row.B)/2)+') rotate(-90)'},g);
   yl.textContent='n(ion)/n(H)';
   
   
  }
  const sg=mk('g',{'clip-path':'url(#'+id+')'},g);
  
  
  const list=DATA[r][c].slice().sort((a,b)=>(a.s-b.s)||(a.m-b.m));
  for(const s of list){
   const p=mk('path',{d:pathFor(s.pts,xs,ys)},sg);
   lineStyle(p,s.m,s.s,s.s===3?1.1:1.3);
   
   
  }
  const fr=mk('rect',{x:col.L,y:row.T,width:col.R-col.L,height:row.B-row.T,fill:'none',stroke:'#000','stroke-width':1.3},g);
  
  
 }
}
const lg=document.getElementById('legend-items');
const LX=[552,607,662,717];
for(let j=0;j<4;j++){
 const t=mk('text',{x:LX[j]+16,y:42,'font-size':15,'text-anchor':'middle'},lg);
 t.textContent=STAGES[j];
 
 
}
for(let i=0;i<4;i++){
 const y=51+i*24;
 const t=mk('text',{x:537,y:y+5,'font-size':15,'text-anchor':'end'},lg);
 t.textContent=METALS[i];
 
 
 for(let j=0;j<4;j++){
  const l=mk('path',{d:'M'+LX[j]+','+y+'h33'},lg);
  lineStyle(l,i,j,1.2);
  
  
 }
}
</script>
</body></html>
